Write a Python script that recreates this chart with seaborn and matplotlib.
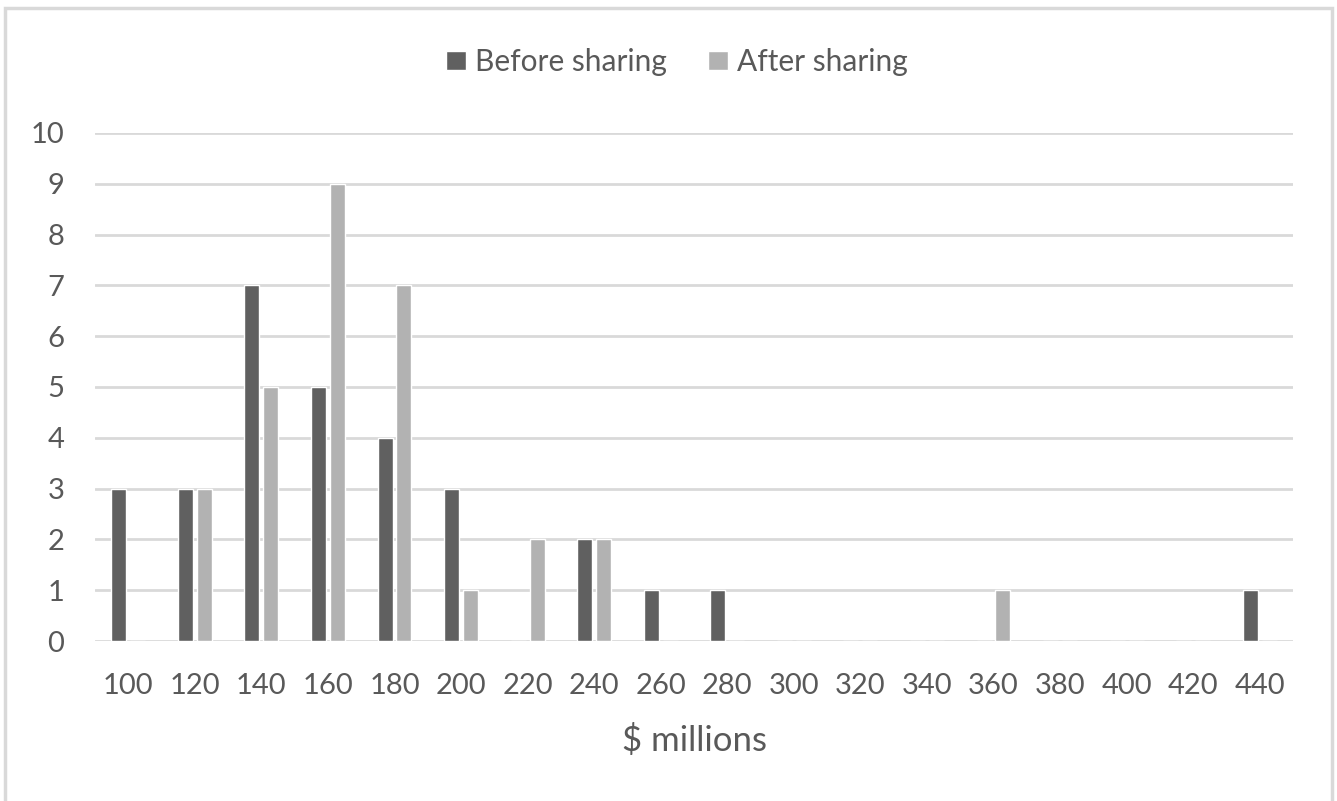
import matplotlib
matplotlib.use("Agg")
import matplotlib.pyplot as plt
import seaborn as sns
import pandas as pd
from matplotlib.patches import Rectangle

# Histogram bins ($ millions) and counts for each series
bins = [100, 120, 140, 160, 180, 200, 220, 240, 260, 280,
        300, 320, 340, 360, 380, 400, 420, 440]
before_sharing = [3, 3, 7, 5, 4, 3, 0, 2, 1, 1, 0, 0, 0, 0, 0, 0, 0, 1]
after_sharing = [0, 3, 5, 9, 7, 1, 2, 2, 0, 0, 0, 0, 0, 1, 0, 0, 0, 0]
series_names = ["Before sharing", "After sharing"]
y_ticks = list(range(0, 11))

df = pd.DataFrame({
    "bin": [str(b) for b in bins] * 2,
    "count": before_sharing + after_sharing,
    "series": [series_names[0]] * len(bins) + [series_names[1]] * len(bins),
})

sns.set_theme(style="white")
plt.rcParams["font.family"] = ["Lato", "DejaVu Sans"]

TEXT = "#595959"
GRID = "#d9d9d9"
DARK = "#606060"
LIGHT = "#b2b2b2"

W, H = 1337, 801
fig = plt.figure(figsize=(W / 100, H / 100), dpi=100)
ax = fig.add_axes([95 / W, 1 - 641 / H, (1293 - 95) / W, (641 - 133) / H])

sns.barplot(data=df, x="bin", y="count", hue="series",
            order=[str(b) for b in bins], hue_order=series_names,
            palette=[DARK, LIGHT], width=0.57, gap=0.21,
            saturation=1, ax=ax, legend=True)

ax.set_ylim(0, 10)
ax.set_xlim(-0.5, len(bins) - 0.5)
ax.set_yticks(y_ticks)
ax.set_yticklabels([str(t) for t in y_ticks])
ax.yaxis.grid(True, color=GRID, linewidth=2)
ax.set_axisbelow(True)
for s in ax.spines.values():
    s.set_visible(False)
ax.tick_params(axis="both", length=0, labelsize=21, labelcolor=TEXT)
ax.tick_params(axis="y", pad=22)
ax.tick_params(axis="x", pad=23)
ax.set_ylabel("")
ax.set_xlabel("$ millions", fontsize=25, color=TEXT, labelpad=18)

handles, labels = ax.get_legend_handles_labels()
ax.legend_.remove()
fig.legend(handles, labels, loc="center", bbox_to_anchor=(677 / W, 1 - 62 / H),
           ncol=2, frameon=False, fontsize=21.5, labelcolor=TEXT,
           handlelength=0.65, handleheight=0.65, handletextpad=0.3,
           columnspacing=1.4)

# Chart area frame
fig.patches.append(Rectangle((5 / W, -0.05), (1332 - 5) / W, 1.05 - 8 / H,
                             transform=fig.transFigure, fill=False,
                             edgecolor=GRID, linewidth=2.5))

fig.savefig("out.png", dpi=100)
